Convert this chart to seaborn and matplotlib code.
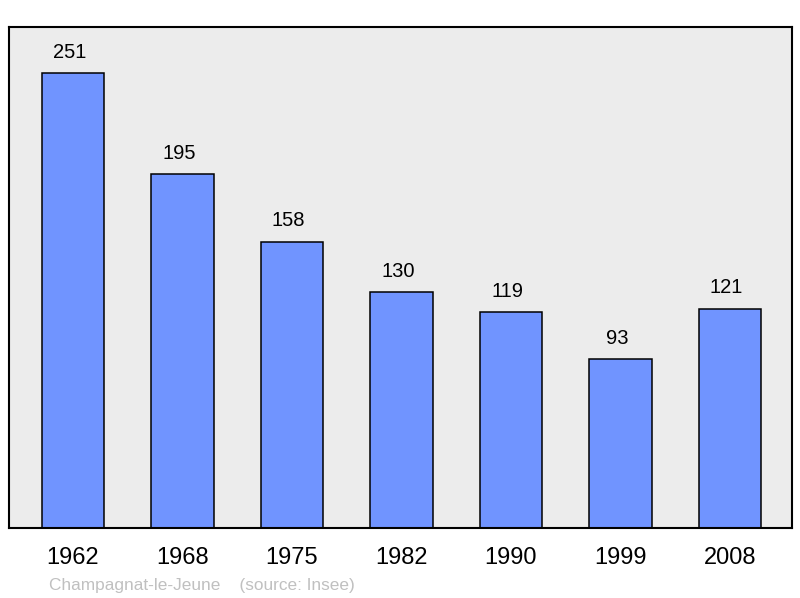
import pandas as pd
import matplotlib
matplotlib.use('Agg')
import matplotlib.pyplot as plt
import seaborn as sns

# population data
years = ['1962', '1968', '1975', '1982', '1990', '1999', '2008']
population = [251, 195, 158, 130, 119, 93, 121]
commune = 'Champagnat-le-Jeune'
source = '(source: Insee)'

df = pd.DataFrame({'Year': years, 'Population': population})

sns.set_style('white')
plt.rcParams['font.family'] = ['Liberation Sans', 'DejaVu Sans']

fig = plt.figure(figsize=(8, 5.98), dpi=100)
ax = fig.add_axes([0.01125, 0.1171, 0.97875, 0.8377])
ax.set_facecolor('#ececec')

sns.barplot(data=df, x='Year', y='Population', color='#7094ff', saturation=1,
            width=0.57, edgecolor='black', linewidth=1.1, ax=ax)

# value labels above bars (sit a little left of centre in the original)
for i, v in enumerate(population):
    ax.annotate(str(v), (i, v), xytext=(-2.5, 8), textcoords='offset points',
                ha='center', va='bottom', fontsize=14.5, color='black')

ax.set_xlim(-0.584, 6.566)
ax.set_ylim(0, 276.3)
ax.set_yticks([])
ax.set_xlabel('')
ax.set_ylabel('')
ax.tick_params(axis='x', length=0, pad=14, labelsize=17, labelcolor='black')
for s in ax.spines.values():
    s.set_visible(True)
    s.set_color('black')
    s.set_linewidth(1.5)

fig.text(0.061, 0.009, commune + '    ' + source, fontsize=12.4, color='#c0c0c0',
         ha='left', va='bottom')

fig.savefig('out.png', dpi=100)
